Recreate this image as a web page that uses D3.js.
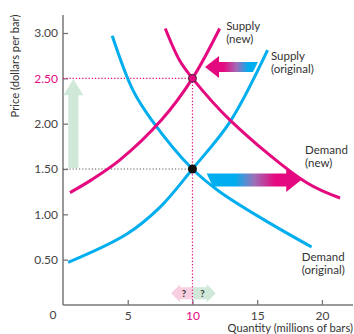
<!DOCTYPE html>
<html><head><meta charset="utf-8">
<script src="https://cdn.jsdelivr.net/npm/d3@7/dist/d3.min.js"></script>
<style>
html,body{margin:0;padding:0;background:#fff;}
text{font-family:Lato,"Open Sans",sans-serif;}
</style></head>
<body>
<svg id="chart" width="354" height="334"></svg>
<script>
// ---- data (quantity in millions of bars, price in dollars per bar) ----
const supplyOriginal = [[0.4,0.47],[4.9,0.78],[7.5,1.08],[10,1.5],[12.9,2.02],[15.8,2.81]];
const supplyNew      = [[0.54,1.24],[2.2,1.38],[4.4,1.6],[7.6,2.04],[10,2.5],[12.1,3.05]];
const demandOriginal = [[3.8,2.97],[5.4,2.37],[6.85,2.04],[10,1.5],[12.1,1.25],[16.0,0.9],[19.2,0.64]];
const demandNew      = [[7.9,3.05],[9.0,2.70],[10,2.5],[12.9,2.04],[18.8,1.35],[21.4,1.18]];
const equilibriumOriginal = [10, 1.5];
const equilibriumNew = [10, 2.5];
const xTicks = [5, 10, 15, 20];
const yTicks = [0.5, 1.0, 1.5, 2.0, 2.5, 3.0];
const curveLabels = [
  {lines:["Supply","(new)"], q:12.6, p:3.03},
  {lines:["Supply","(original)"], q:16.06, p:2.70},
  {lines:["Demand","(new)"], q:18.7, p:1.66},
  {lines:["Demand","(original)"], q:18.45, p:0.49}
];
// shift arrows (in data units)
const supplyShift = {from:15.06, to:10.97, p:2.625};
const demandShift = {from:11.1, to:18.4, p:1.38};
const priceRise = {q:0.8, from:1.51, to:2.49};
const quantityQ = {p:0.13, left:8.35, right:11.8, center:10};

const pink = "#e5097f", blue = "#00aeef";

const svg = d3.select("#chart");
const x = d3.scaleLinear().domain([0, 22.4]).range([63, 353]);
const y = d3.scaleLinear().domain([0, 3]).range([305, 33]);

// gradients
const defs = svg.append("defs");
function grad(id, x1, x2, stops){
  const g = defs.append("linearGradient").attr("id", id).attr("gradientUnits","userSpaceOnUse")
    .attr("x1", x1).attr("x2", x2).attr("y1", 0).attr("y2", 0);
  stops.forEach(s => g.append("stop").attr("offset", s[0]).attr("stop-color", s[1]));
}
grad("gSupply", x(supplyShift.to), x(supplyShift.from), [[0, pink],[0.35, pink],[0.6, "#a06cb8"],[0.82, blue],[1, blue]]);
grad("gDemand", x(demandShift.from), x(demandShift.to), [[0, blue],[0.3, blue],[0.5, "#9a72b8"],[0.72, pink],[1, pink]]);

// axes
const axisColor = "#777";
svg.append("line").attr("x1", x(0)).attr("x2", x(0)).attr("y1", 15).attr("y2", y(0))
  .attr("stroke", axisColor).attr("stroke-width", 1.5);
svg.append("line").attr("x1", x(0)).attr("x2", 353).attr("y1", y(0)).attr("y2", y(0))
  .attr("stroke", axisColor).attr("stroke-width", 1.5);

const yAxis = svg.append("g").attr("transform", `translate(${x(0)},0)`)
  .call(d3.axisLeft(y).tickValues(yTicks).tickFormat(d3.format(".2f")).tickSize(-5).tickPadding(5));
const xAxis = svg.append("g").attr("transform", `translate(0,${y(0)})`)
  .call(d3.axisBottom(x).tickValues(xTicks).tickFormat(d3.format("d")).tickSize(-5).tickPadding(6));
[yAxis, xAxis].forEach(a => {
  a.attr("font-size", 12).attr("font-family", "Lato, 'Open Sans', sans-serif");
  a.select(".domain").remove();
  a.selectAll(".tick line").attr("stroke", axisColor).attr("stroke-width", 1.3);
  a.selectAll(".tick text").attr("fill", "#444");
});
yAxis.selectAll(".tick text").filter(d => d === equilibriumNew[1]).attr("fill", pink);
xAxis.selectAll(".tick text").filter(d => d === equilibriumNew[0]).attr("fill", pink);
svg.append("text").attr("x", 53).attr("y", 319).attr("text-anchor","middle")
  .attr("font-size", 12).attr("fill", "#444").text("0");

svg.append("text").attr("transform", `translate(19,${66}) rotate(-90)`).attr("text-anchor","middle")
  .attr("font-size", 11.2).attr("fill", "#333").text("Price (dollars per bar)");
svg.append("text").attr("x", 353).attr("y", 332).attr("text-anchor","end")
  .attr("font-size", 11.2).attr("fill", "#333").text("Quantity (millions of bars)");

// price-rise arrow (light green)
const gr = svg.append("g").attr("fill", "#cfe8d8");
{
  const cx = x(priceRise.q), yb = y(priceRise.from), yt = y(priceRise.to);
  gr.append("path").attr("d",
    `M${cx-5},${yb} L${cx-5},${yt+16} L${cx-10},${yt+16} L${cx},${yt} L${cx+10},${yt+16} L${cx+5},${yt+16} L${cx+5},${yb} Z`);
}

// dotted guide lines
svg.append("line").attr("x1", x(0)).attr("x2", x(equilibriumNew[0])).attr("y1", y(equilibriumNew[1])).attr("y2", y(equilibriumNew[1]))
  .attr("stroke", pink).attr("stroke-width", 1.2).attr("stroke-dasharray", "1.2,2");
svg.append("line").attr("x1", x(0)).attr("x2", x(equilibriumOriginal[0])).attr("y1", y(equilibriumOriginal[1])).attr("y2", y(equilibriumOriginal[1]))
  .attr("stroke", "#555").attr("stroke-width", 1.1).attr("stroke-dasharray", "1.2,2");

// quantity question arrows
{
  const cy = y(quantityQ.p), xc = x(quantityQ.center), xl = x(quantityQ.left), xr = x(quantityQ.right);
  svg.append("path").attr("fill", "#f8cfe1").attr("d",
    `M${xc},${cy-6} L${xl+9},${cy-6} L${xl+9},${cy-9} L${xl},${cy} L${xl+9},${cy+9} L${xl+9},${cy+6} L${xc},${cy+6} Z`);
  svg.append("path").attr("fill", "#cfe8d8").attr("d",
    `M${xc},${cy-6} L${xr-9},${cy-6} L${xr-9},${cy-9} L${xr},${cy} L${xr-9},${cy+9} L${xr-9},${cy+6} L${xc},${cy+6} Z`);
  svg.append("text").attr("x", xc-8.5).attr("y", cy+3.5).attr("text-anchor","middle").attr("font-size",9.5)
    .attr("font-weight","bold").attr("fill","#333").text("?");
  svg.append("text").attr("x", xc+10).attr("y", cy+3.5).attr("text-anchor","middle").attr("font-size",9.5)
    .attr("font-weight","bold").attr("fill","#333").text("?");
}
svg.append("line").attr("x1", x(equilibriumNew[0])).attr("x2", x(equilibriumNew[0])).attr("y1", y(equilibriumNew[1])).attr("y2", y(0))
  .attr("stroke", pink).attr("stroke-width", 1.2).attr("stroke-dasharray", "1.2,2");

// curves
const line = d3.line().x(d => x(d[0])).y(d => y(d[1])).curve(d3.curveCatmullRom.alpha(0.5));
[[supplyOriginal, blue],[demandOriginal, blue],[supplyNew, pink],[demandNew, pink]].forEach(([data, c]) => {
  svg.append("path").datum(data).attr("d", line).attr("fill","none").attr("stroke", c).attr("stroke-width", 3);
});

// shift arrows with gradients
{
  const xt = x(supplyShift.to), xf = x(supplyShift.from), cy = y(supplyShift.p);
  svg.append("path").attr("fill", "url(#gSupply)").attr("d",
    `M${xt},${cy} L${xt+14},${cy-11} L${xt+14},${cy-5} L${xf},${cy-5} L${xf-5},${cy+5} L${xt+14},${cy+5} L${xt+14},${cy+11} Z`);
}
{
  const xf = x(demandShift.from), xt = x(demandShift.to), cy = y(demandShift.p);
  svg.append("path").attr("fill", "url(#gDemand)").attr("d",
    `M${xt},${cy} L${xt-15},${cy-12} L${xt-15},${cy-6.5} L${xf},${cy-6.5} L${xf+6},${cy+6.5} L${xt-15},${cy+6.5} L${xt-15},${cy+12} Z`);
}

// equilibrium points
svg.append("circle").attr("cx", x(equilibriumOriginal[0])).attr("cy", y(equilibriumOriginal[1])).attr("r", 4.5).attr("fill", "#111");
svg.append("circle").attr("cx", x(equilibriumNew[0])).attr("cy", y(equilibriumNew[1])).attr("r", 4).attr("fill", pink)
  .attr("stroke", "#4a2a3a").attr("stroke-width", 1);

// curve labels
curveLabels.forEach(l => {
  const t = svg.append("text").attr("x", x(l.q)).attr("y", y(l.p)).attr("font-size", 11.5).attr("fill", "#333");
  l.lines.forEach((s, i) => t.append("tspan").attr("x", x(l.q)).attr("dy", i ? 13 : 0).text(s));
});
</script>
</body></html>
